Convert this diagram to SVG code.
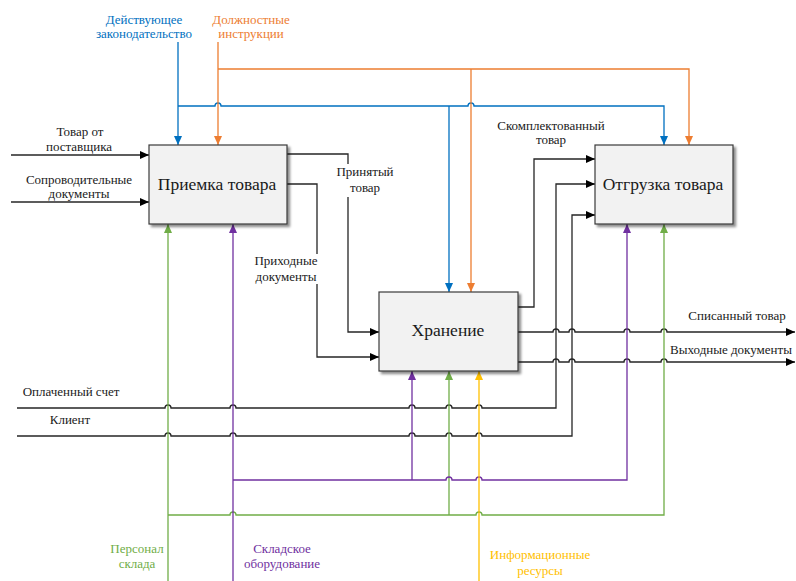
<svg xmlns="http://www.w3.org/2000/svg" width="796" height="581" viewBox="0 0 796 581">
<defs>
<style>
.box{fill:#F2F2F2;stroke:#3A3A3A;stroke-width:1.2;filter:url(#sh)}
.t{font-family:"Liberation Serif","Times New Roman",serif;font-size:13px;text-anchor:middle}
.tb{font-family:"Liberation Serif","Times New Roman",serif;font-size:17.5px;text-anchor:middle;fill:#1a1a1a}
.k{fill:none;stroke:#262626;stroke-width:1.3}
.bl{fill:none;stroke:#0070C0;stroke-width:1.3}
.or{fill:none;stroke:#ED7D31;stroke-width:1.3}
.gr{fill:none;stroke:#70AD47;stroke-width:1.3}
.pu{fill:none;stroke:#7030A0;stroke-width:1.3}
.ye{fill:none;stroke:#FFC000;stroke-width:1.3}
</style>
<filter id="sh" x="-10%" y="-10%" width="125%" height="130%">
<feDropShadow dx="2.5" dy="2.5" stdDeviation="1.2" flood-color="#000" flood-opacity="0.45"/>
</filter>
<marker id="ak" markerWidth="9" markerHeight="8" refX="9" refY="4" orient="auto" markerUnits="userSpaceOnUse"><path d="M0,0 L9,4 L0,8 z" fill="#000"/></marker>
<marker id="ab" markerWidth="9" markerHeight="8" refX="9" refY="4" orient="auto" markerUnits="userSpaceOnUse"><path d="M0,0 L9,4 L0,8 z" fill="#0070C0"/></marker>
<marker id="ao" markerWidth="9" markerHeight="8" refX="9" refY="4" orient="auto" markerUnits="userSpaceOnUse"><path d="M0,0 L9,4 L0,8 z" fill="#ED7D31"/></marker>
<marker id="ag" markerWidth="9" markerHeight="8" refX="9" refY="4" orient="auto" markerUnits="userSpaceOnUse"><path d="M0,0 L9,4 L0,8 z" fill="#70AD47"/></marker>
<marker id="ap" markerWidth="9" markerHeight="8" refX="9" refY="4" orient="auto" markerUnits="userSpaceOnUse"><path d="M0,0 L9,4 L0,8 z" fill="#7030A0"/></marker>
<marker id="ay" markerWidth="9" markerHeight="8" refX="9" refY="4" orient="auto" markerUnits="userSpaceOnUse"><path d="M0,0 L9,4 L0,8 z" fill="#FFC000"/></marker>
</defs>
<rect width="796" height="581" fill="#fff"/>

<g id="connectors">
  <!-- controls -->
  <path class="bl" d="M178,42 V145" marker-end="url(#ab)"/>
  <path class="bl" d="M178,106 H215 a3,3 0 0 1 6,0 H468 a3,3 0 0 1 6,0 H664 V145" marker-end="url(#ab)"/>
  <path class="bl" d="M449,106 V292" marker-end="url(#ab)"/>
  <path class="or" d="M218,42 V145" marker-end="url(#ao)"/>
  <path class="or" d="M218,69 H689 V145" marker-end="url(#ao)"/>
  <path class="or" d="M471,69 V292" marker-end="url(#ao)"/>

  <!-- inputs / outputs -->
  <path class="k" d="M11,155 H149" marker-end="url(#ak)"/>
  <path class="k" d="M11,202 H149" marker-end="url(#ak)"/>
  <path class="k" d="M287,154 H348 V332 H379" marker-end="url(#ak)"/>
  <path class="k" d="M287,184 H317 V357 H379" marker-end="url(#ak)"/>
  <path class="k" d="M518,307 H534 V159 H595" marker-end="url(#ak)"/>
  <path class="k" d="M17,408 H165 a3,3 0 0 1 6,0 H230 a3,3 0 0 1 6,0 H409 a3,3 0 0 1 6,0 H446 a3,3 0 0 1 6,0 H476 a3,3 0 0 1 6,0 H556 V184 H595" marker-end="url(#ak)"/>
  <path class="k" d="M17,436 H165 a3,3 0 0 1 6,0 H230 a3,3 0 0 1 6,0 H409 a3,3 0 0 1 6,0 H446 a3,3 0 0 1 6,0 H476 a3,3 0 0 1 6,0 H572 V215 H595" marker-end="url(#ak)"/>
  <path class="k" d="M518,332 H553 a3,3 0 0 1 6,0 H569 a3,3 0 0 1 6,0 H624 a3,3 0 0 1 6,0 H661 a3,3 0 0 1 6,0 H795" marker-end="url(#ak)"/>
  <path class="k" d="M518,362 H553 a3,3 0 0 1 6,0 H569 a3,3 0 0 1 6,0 H624 a3,3 0 0 1 6,0 H661 a3,3 0 0 1 6,0 H795" marker-end="url(#ak)"/>

  <!-- mechanisms -->
  <path class="gr" d="M168,581 V224" marker-end="url(#ag)"/>
  <path class="gr" d="M168,515 H230 a3,3 0 0 1 6,0 H476 a3,3 0 0 1 6,0 H664 V224" marker-end="url(#ag)"/>
  <path class="gr" d="M449,515 V371" marker-end="url(#ag)"/>
  <path class="pu" d="M233,581 V224" marker-end="url(#ap)"/>
  <path class="pu" d="M233,480 H446 a3,3 0 0 1 6,0 H476 a3,3 0 0 1 6,0 H627 V224" marker-end="url(#ap)"/>
  <path class="pu" d="M412,480 V371" marker-end="url(#ap)"/>
  <path class="ye" d="M479,581 V371" marker-end="url(#ay)"/>

  <!-- label gaps -->
  <rect x="336" y="164" width="58" height="33" fill="#fff"/>
  <rect x="254" y="254" width="66" height="30" fill="#fff"/>
</g>

<g id="node-priemka">
  <rect class="box" x="149" y="145" width="138" height="79"/>
  <text class="tb" x="217" y="190">Приемка товара</text>
</g>
<g id="node-hranenie">
  <rect class="box" x="379" y="292" width="139" height="79"/>
  <text class="tb" x="448" y="336">Хранение</text>
</g>
<g id="node-otgruzka">
  <rect class="box" x="595" y="145" width="138" height="79"/>
  <text class="tb" x="663" y="190">Отгрузка товара</text>
</g>

<g id="labels">
  <text class="t" x="144" y="24" fill="#0070C0">Действующее</text>
  <text class="t" x="144" y="38" fill="#0070C0">законодательство</text>
  <text class="t" x="251" y="24" fill="#ED7D31">Должностные</text>
  <text class="t" x="251" y="38" fill="#ED7D31">инструкции</text>
  <text class="t" x="80" y="136" fill="#1a1a1a">Товар от</text>
  <text class="t" x="79" y="151" fill="#1a1a1a">поставщика</text>
  <text class="t" x="79" y="184" fill="#1a1a1a">Сопроводительные</text>
  <text class="t" x="79" y="198" fill="#1a1a1a">документы</text>
  <text class="t" x="365" y="176" fill="#1a1a1a">Принятый</text>
  <text class="t" x="365" y="192" fill="#1a1a1a">товар</text>
  <text class="t" x="286" y="265" fill="#1a1a1a">Приходные</text>
  <text class="t" x="286" y="281" fill="#1a1a1a">документы</text>
  <text class="t" x="551" y="130" fill="#1a1a1a">Скомплектованный</text>
  <text class="t" x="551" y="144" fill="#1a1a1a">товар</text>
  <text class="t" x="737" y="320" fill="#1a1a1a">Списанный товар</text>
  <text class="t" x="731" y="354" fill="#1a1a1a">Выходные документы</text>
  <text class="t" x="71" y="396" fill="#1a1a1a">Оплаченный счет</text>
  <text class="t" x="70" y="424" fill="#1a1a1a">Клиент</text>
  <text class="t" x="137" y="553" fill="#70AD47">Персонал</text>
  <text class="t" x="137" y="568" fill="#70AD47">склада</text>
  <text class="t" x="282" y="553" fill="#7030A0">Складское</text>
  <text class="t" x="282" y="568" fill="#7030A0">оборудование</text>
  <text class="t" x="540" y="559" fill="#FFC000">Информационные</text>
  <text class="t" x="540" y="575" fill="#FFC000">ресурсы</text>
</g>
</svg>
